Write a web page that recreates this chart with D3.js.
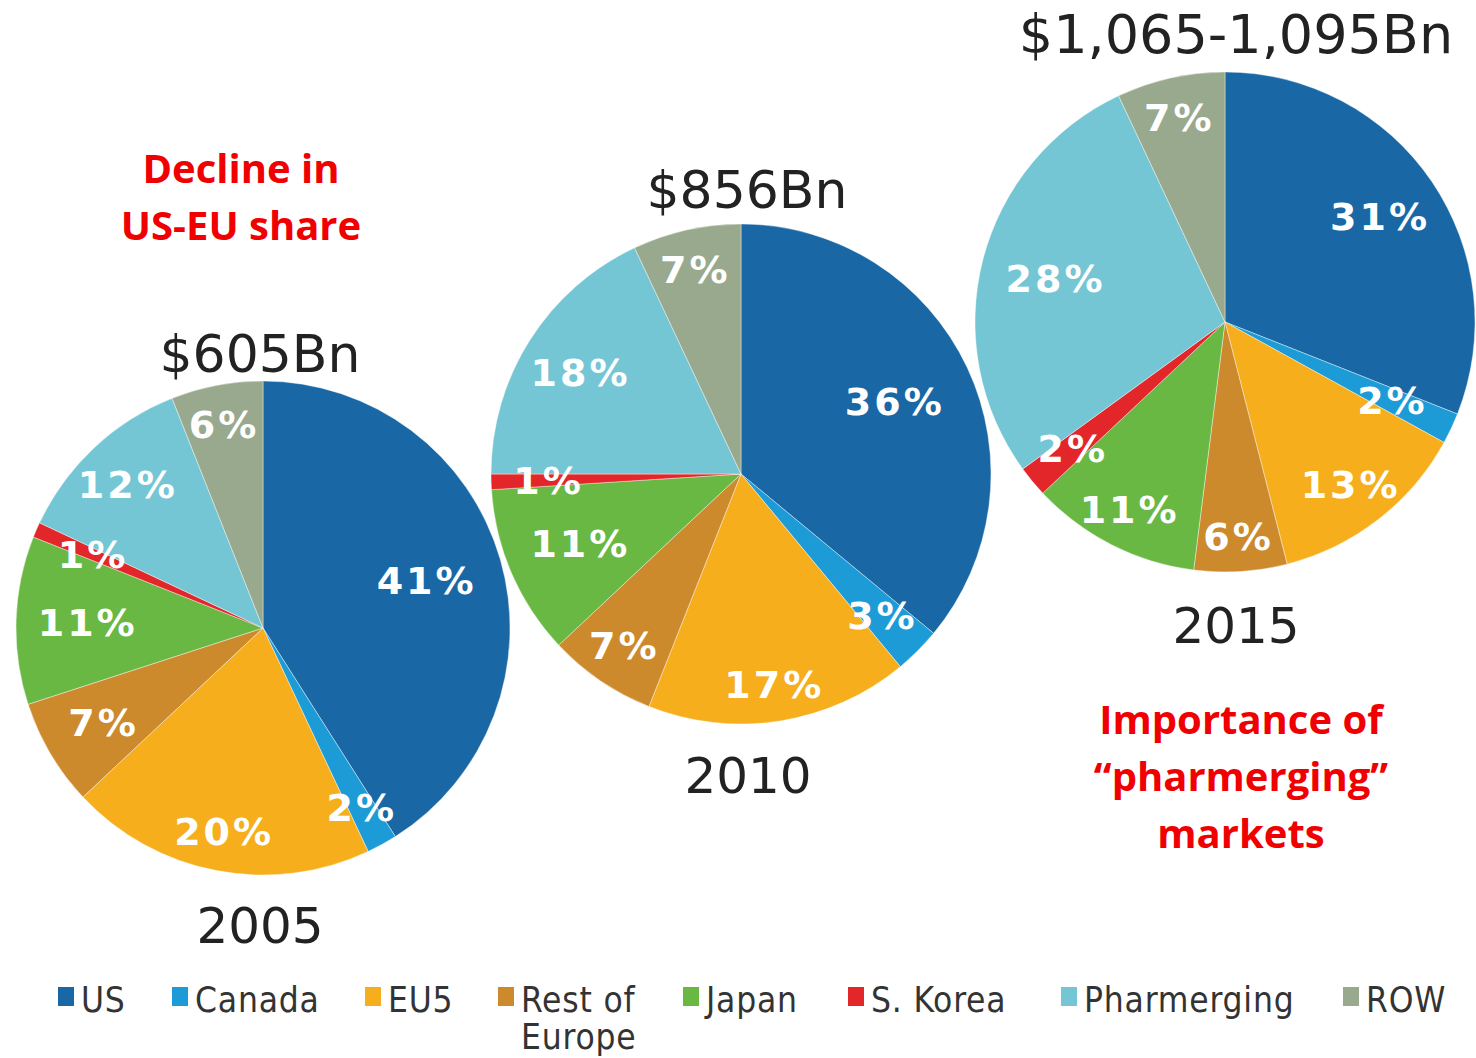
<!DOCTYPE html>
<html><head><meta charset="utf-8">
<script src="https://cdn.jsdelivr.net/npm/d3@7"></script>
<style>html,body{margin:0;padding:0;background:#fff;}svg{display:block;}</style>
</head><body>
<svg id="chart" width="1476" height="1058"></svg>
<script>
// ---- data ----
const categories = ["US","Canada","EU5","Rest of Europe","Japan","S. Korea","Pharmerging","ROW"];
const legendLabels = [["US"],["Canada"],["EU5"],["Rest of","Europe"],["Japan"],["S. Korea"],["Pharmerging"],["ROW"]];
const years = ["2005","2010","2015"];
const totals = ["$605Bn","$856Bn","$1,065-1,095Bn"];
const share2005 = [41,2,20,7,11,1,12,6];
const share2010 = [36,3,17,7,11,1,18,7];
const share2015 = [31,2,13,6,11,2,28,7];
const annotationLeft = ["Decline in","US-EU share"];
const annotationRight = ["Importance of","\u201Cpharmerging\u201D","markets"];

// ---- styles / layout ----
const colors = ["#1968a5","#1d9bd7","#f6ae1c","#cc8a2c","#6ab844","#e3262a","#75c6d4","#99a98e"];
const pies = [
  {values: share2005, cx:263, cy:628, r:247, titleY:372, yearY:943, yearX:260, titleX:260, titleSize:52,
   lr:[0.69,0.83,0.84,0.75,0.71,0.75,0.80,0.84]},
  {values: share2010, cx:741, cy:474, r:250, titleY:208, yearY:793, yearX:748, titleX:747, titleSize:52,
   lr:[0.68,0.80,0.85,0.83,0.70,0.77,0.76,0.84]},
  {values: share2015, cx:1225, cy:322, r:250, titleY:53, yearY:643, yearX:1236, titleX:1236, titleSize:54,
   lr:[0.75,0.74,0.82,0.86,0.84,0.79,0.70,0.84]}
];

const svg = d3.select("#chart");
const pieGen = d3.pie().sort(null).value(d => d);

pies.forEach((p, i) => {
  const g = svg.append("g").attr("transform", `translate(${p.cx},${p.cy})`);
  const arc = d3.arc().innerRadius(0).outerRadius(p.r);
  const arcs = pieGen(p.values);
  g.selectAll("path").data(arcs).join("path")
    .attr("d", arc)
    .attr("fill", (d, j) => colors[j])
    .attr("stroke", "#fff").attr("stroke-width", 0.4);
  g.selectAll("text.lbl").data(arcs).join("text")
    .attr("class","lbl")
    .attr("transform", (d, j) => {
      const a = (d.startAngle + d.endAngle) / 2;
      const rr = p.r * p.lr[j];
      return `translate(${Math.sin(a) * rr},${-Math.cos(a) * rr})`;
    })
    .attr("text-anchor","middle").attr("dy","0.36em")
    .attr("fill","#fff")
    .attr("font-family","'DejaVu Sans', Verdana, sans-serif")
    .attr("font-weight","bold").attr("font-size", 38)
    .attr("letter-spacing", 3)
    .text(d => d.data + "%");
  svg.append("text").attr("x", p.titleX).attr("y", p.titleY)
    .attr("text-anchor","middle").attr("fill","#222")
    .attr("font-family","'DejaVu Sans', Verdana, sans-serif").attr("font-size", p.titleSize)
    .text(totals[i]);
  svg.append("text").attr("x", p.yearX).attr("y", p.yearY)
    .attr("text-anchor","middle").attr("fill","#222")
    .attr("font-family","'DejaVu Sans', Verdana, sans-serif").attr("font-size", 50)
    .text(years[i]);
});

// annotations
const annFont = "'Open Sans', 'Liberation Sans', sans-serif";
svg.append("g").selectAll("text").data(annotationLeft).join("text")
  .attr("x", 241).attr("y", (d, i) => 183 + i * 57)
  .attr("text-anchor","middle").attr("fill","#f00000")
  .attr("font-family", annFont).attr("font-weight","bold").attr("font-size", 40)
  .text(d => d);
svg.append("g").selectAll("text").data(annotationRight).join("text")
  .attr("x", 1241).attr("y", (d, i) => 734 + i * 57)
  .attr("text-anchor","middle").attr("fill","#f00000")
  .attr("font-family", annFont).attr("font-weight","bold").attr("font-size", 40)
  .text(d => d);

// legend
const legendX = [58,172,365,498,683,848,1061,1343];
const lg = svg.append("g");
categories.forEach((c, i) => {
  lg.append("rect").attr("x", legendX[i]).attr("y", 987).attr("width", 16).attr("height", 19)
    .attr("fill", colors[i]);
  const t = lg.append("text").attr("x", legendX[i] + 23).attr("y", 1012)
    .attr("fill","#333")
    .attr("font-family","'DejaVu Sans Condensed', 'DejaVu Sans', sans-serif")
    .attr("font-size", 35).attr("letter-spacing", 0.8);
  legendLabels[i].forEach((line, k) => {
    t.append("tspan").attr("x", legendX[i] + 23).attr("dy", k === 0 ? 0 : 37).text(line);
  });
});
</script>
</body></html>
